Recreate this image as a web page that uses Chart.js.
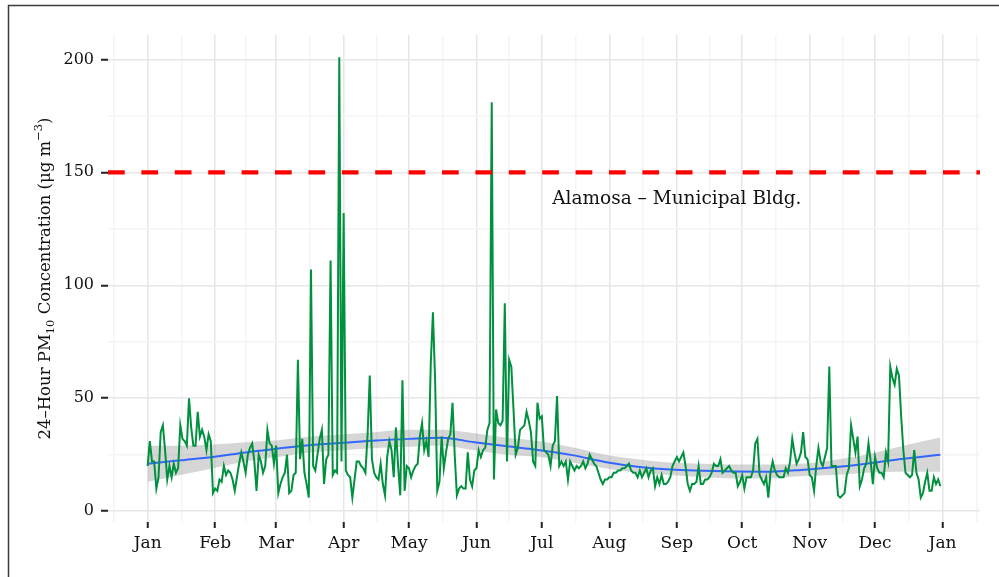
<!DOCTYPE html>
<html>
<head>
<meta charset="utf-8">
<script src="https://cdn.jsdelivr.net/npm/chart.js@4.4.0/dist/chart.umd.min.js"></script>
<style>
body{margin:0;background:#fff;}
canvas{display:block;}
</style>
</head>
<body>
<canvas id="mychart" width="999" height="577"></canvas>
<script>
var monthDays=[0,31,59,90,120,151,181,212,243,273,304,334,365]
var monthLabels=["Jan","Feb","Mar","Apr","May","Jun","Jul","Aug","Sep","Oct","Nov","Dec","Jan"]
var yTicks=[0,50,100,150,200]

// daily 24-hour PM10, day 0 = Jan 1
var pm10=[
20,31,22,22,10,15,35,38,27,14,
20,15,21,17,19,38,32,31,29,50,
37,29,29,44,33,36,33,27,34,31,
8,10,9,14,13,20,16,18,17,14,
9,15,21,26,22,17,25,28,30,22,
9,25,22,17,20,36,30,29,21,29,
8,12,15,17,25,8,9,16,17,67,
23,32,17,12,6,107,20,18,25,32,
36,12,23,25,111,16,18,17,201,22,
132,18,16,15,6,14,22,22,20,19,
17,34,60,23,17,15,14,21,12,7,
24,31,27,15,37,20,7,58,9,20,
19,15,18,20,21,33,39,27,31,24,
65,88,58,9,13,33,19,26,32,34,
48,25,7,10,11,10,10,26,14,11,
18,19,27,24,27,28,36,39,181,14,
45,39,38,40,92,22,67,64,45,25,
28,36,37,38,44,40,35,22,20,48,
41,42,27,26,25,20,29,31,51,20,
22,20,22,14,22,20,18,20,19,20,
22,19,21,25,23,21,20,17,14,12,
14,14,15,15,17,17,18,18,19,19,
20,21,18,17,17,15,18,15,17,19,
15,18,19,11,15,12,16,12,12,13,
15,20,22,24,22,24,26,20,12,9,
12,12,13,20,12,12,14,14,15,17,
21,20,20,23,17,18,19,20,18,17,
17,11,13,16,10,15,15,15,18,30,
32,16,14,12,15,6,17,22,18,16,
15,15,15,19,17,22,32,26,21,23,
26,35,24,23,16,15,9,20,28,22,
20,24,28,64,20,20,20,7,6,7,
8,16,19,38,32,26,33,11,14,19,
21,30,22,12,24,19,17,17,15,26,
22,64,59,56,63,60,42,27,17,16,
15,16,27,17,14,6,8,13,17,9,
9,15,12,14,11
]

// loess fit and its band, read at these days
var smoothDays=[0,15,30,45,60,75,90,105,120,135,150,165,180,195,210,225,240,255,270,285,300,315,330,345,364]
var smoothFit=[21,22.5,24,26,27.7,29.3,30.3,31.3,32,32.5,30.5,28.7,27,24.8,21.8,19.7,18.4,17.9,17.6,17.5,18.2,19.4,21,23,25]
var smoothLo=[13,16,19,22,24,26,27,28,28.5,29,27,25,24,21.5,19,17,16,15,14.5,14.5,15.5,16,17,17.5,17.4]
var smoothHi=[29,29,29.5,30.5,31.4,33,34,35,36,36,34.5,32.5,31,28.3,25,23,21.5,21,20.7,20.7,21,22.7,25,28.5,32.6]

var standard=150
var siteName="Alamosa – Municipal Bldg."
var siteNameAt=[243,136]

var xMin=-18.2, xMax=382.2, yMin=-4.8, yMax=210.8

var xAll=[]
for(var i=0;i<monthDays.length;i++){
    xAll.push(monthDays[i])
    if(i<monthDays.length-1) xAll.push((monthDays[i]+monthDays[i+1])/2)
}
xAll.unshift(monthDays[0]-15.5)
xAll.push(monthDays[monthDays.length-1]+15.5)
var yAll=[]
for(var v=0;v<=200;v+=25) yAll.push(v)

function isMajorX(v){return monthDays.indexOf(v)>-1}
function isMajorY(v){return yTicks.indexOf(v)>-1}

var series=[]
for(var d=0;d<pm10.length;d++) series.push({x:d,y:pm10[d]})
var fit=[],lo=[],hi=[]
for(var k=0;k<smoothDays.length;k++){
    fit.push({x:smoothDays[k],y:smoothFit[k]})
    lo.push({x:smoothDays[k],y:smoothLo[k]})
    hi.push({x:smoothDays[k],y:smoothHi[k]})
}

var serif='"DejaVu Serif", serif'

var frame={
    id:"frame",
    beforeDraw:function(chart){
        var c=chart.ctx
        c.save()
        c.fillStyle="#fff"
        c.fillRect(0,0,chart.width,chart.height)
        c.strokeStyle="#3a3a3a"
        c.lineWidth=1.5
        c.beginPath()
        c.moveTo(8.5,chart.height)
        c.lineTo(8.5,5.5)
        c.lineTo(chart.width,5.5)
        c.stroke()
        c.restore()
    }
}

var labels={
    id:"labels",
    afterDraw:function(chart){
        var c=chart.ctx
        var a=chart.chartArea
        c.save()
        c.fillStyle="#111"
        c.textBaseline="alphabetic"
        // site name
        c.font="18.5px "+serif
        c.textAlign="center"
        c.fillText(siteName,chart.scales.x.getPixelForValue(siteNameAt[0]),chart.scales.y.getPixelForValue(siteNameAt[1]))
        // y title with sub/superscript
        c.textAlign="left"
        c.translate(50,(a.top+a.bottom)/2)
        c.rotate(-Math.PI/2)
        var big="16.5px "+serif, small="11.5px "+serif
        var parts=[["24–Hour PM",big,0],["10",small,4],[" Concentration (μg m",big,0],["−3",small,-8],[")",big,0]]
        var total=0
        parts.forEach(function(p){c.font=p[1];total+=c.measureText(p[0]).width})
        var px=-total/2
        parts.forEach(function(p){c.font=p[1];c.fillText(p[0],px,p[2]);px+=c.measureText(p[0]).width})
        c.restore()
    }
}

var mychart=document.getElementById("mychart").getContext("2d")
var chart=new Chart(mychart,{
    type:"line",
    data:{
        datasets:[
            {
                data:[{x:xMin,y:standard},{x:xMax,y:standard}],
                borderColor:"#ff0000",
                borderWidth:4.3,
                borderDash:[16.7,16.7],
                pointRadius:0,
                order:0
            },
            {
                data:series,
                borderColor:"#00913f",
                borderWidth:2,
                pointRadius:0,
                tension:0,
                order:1
            },
            {
                data:fit,
                borderColor:"#3366ff",
                borderWidth:2,
                pointRadius:0,
                cubicInterpolationMode:"monotone",
                order:2
            },
            {
                data:lo,
                borderWidth:0,
                pointRadius:0,
                cubicInterpolationMode:"monotone",
                order:3
            },
            {
                data:hi,
                borderWidth:0,
                pointRadius:0,
                cubicInterpolationMode:"monotone",
                backgroundColor:"rgba(153,153,153,0.4)",
                fill:"-1",
                order:4
            }
        ]
    },
    options:{
        responsive:false,
        animation:false,
        layout:{padding:{top:35,right:19,left:0,bottom:0}},
        plugins:{legend:{display:false},tooltip:{enabled:false}},
        scales:{
            x:{
                type:"linear",
                min:xMin,
                max:xMax,
                afterBuildTicks:function(s){s.ticks=xAll.map(function(v){return {value:v}})},
                afterFit:function(s){s.height=55},
                border:{display:false},
                grid:{
                    color:function(ctx){return ctx.tick&&isMajorX(ctx.tick.value)?"#e6e6e6":"#f4f4f4"},
                    tickColor:function(ctx){return ctx.tick&&isMajorX(ctx.tick.value)?"#222":"rgba(0,0,0,0)"},
                    lineWidth:1.5,
                    tickWidth:2,
                    tickLength:6
                },
                ticks:{
                    autoSkip:false,
                    maxRotation:0,
                    padding:5,
                    color:"#111",
                    font:{family:serif,size:17},
                    callback:function(v){var i=monthDays.indexOf(v);return i>-1?monthLabels[i]:""}
                }
            },
            y:{
                min:yMin,
                max:yMax,
                afterBuildTicks:function(s){s.ticks=yAll.map(function(v){return {value:v}})},
                afterFit:function(s){s.width=108},
                border:{display:false},
                grid:{
                    color:function(ctx){return ctx.tick&&isMajorY(ctx.tick.value)?"#e6e6e6":"#f4f4f4"},
                    tickColor:function(ctx){return ctx.tick&&isMajorY(ctx.tick.value)?"#222":"rgba(0,0,0,0)"},
                    lineWidth:1.5,
                    tickWidth:2,
                    tickLength:7
                },
                ticks:{
                    padding:7,
                    color:"#111",
                    font:{family:serif,size:16},
                    callback:function(v){return isMajorY(v)?String(v):""}
                }
            }
        }
    },
    plugins:[frame,labels]
})
</script>
</body>
</html>
